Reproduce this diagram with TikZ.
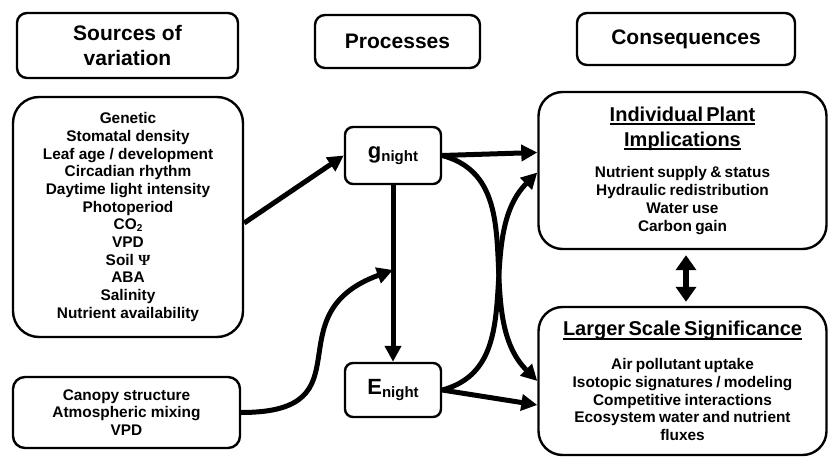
\documentclass[tikz,border=0pt]{standalone}
\usepackage{fontspec}
\setmainfont{Liberation Sans}
\newfontfamily\psifont{Liberation Serif}
\usetikzlibrary{arrows.meta,calc}
\newcommand\hdrfont{\fontsize{21}{25}\selectfont\bfseries}
\newcommand\itemfont{\fontsize{15.4}{17.7}\selectfont\bfseries}
\newcommand\ttlfont{\fontsize{20}{25}\selectfont\bfseries}
\newcommand\undl[1]{\leavevmode\setbox0\hbox{#1}\rlap{\rule[-4pt]{\wd0}{1.8pt}}\box0}
\newcommand\nightof[1]{{\fontsize{22}{22}\selectfont\bfseries #1\raisebox{-3pt}{\fontsize{15}{15}\selectfont night}}}
\tikzset{
  header/.style={draw=black, line width=2.4pt, rounded corners=10pt, font=\hdrfont, align=center, inner sep=0pt},
  srcbox/.style={draw=black, line width=2.4pt, rounded corners=26pt, font=\itemfont, align=center, inner sep=0pt},
  smallsrc/.style={draw=black, line width=2.4pt, rounded corners=12pt, font=\itemfont, align=center, inner sep=0pt},
  procbox/.style={draw=black, line width=2.4pt, rounded corners=8pt, inner sep=0pt, minimum width=96pt},
  conbox/.style={draw=black, line width=2.4pt, rounded corners=24pt, align=center, inner sep=4pt, text width=280pt},
  arrow/.style={-{Triangle[length=16pt,width=16pt]}, line width=5pt},
  dblarrow/.style={{Triangle[length=15pt,width=20pt]}-{Triangle[length=15pt,width=20pt]}, line width=6pt}
}
\begin{document}
\begin{tikzpicture}[x=1pt, y=1pt]
  \useasboundingbox (0,0) rectangle (829,458);
  % column headers
  \node[header, minimum width=221pt, minimum height=65pt] (hsrc) at (127.5,412.5) {Sources of\\variation};
  \node[header, minimum width=165pt, minimum height=53pt] (hproc) at (397.5,416.5) {Processes};
  \node[header, minimum width=218pt, minimum height=52pt] (hcons) at (686,419) {Consequences};
  % sources
  \node[srcbox, minimum width=230pt, minimum height=240pt] (src) at (128,241)
    {Genetic\\Stomatal density\\Leaf age / development\\Circadian rhythm\\Daytime light intensity\\Photoperiod\\
     CO\raisebox{-2pt}{\fontsize{10}{10}\selectfont 2}\\VPD\\Soil {\psifont\bfseries Ψ}\\ABA\\Salinity\\Nutrient availability};
  \node[smallsrc, minimum width=227pt, minimum height=71pt] (canopy) at (126.5,45.5)
    {Canopy structure\\Atmospheric mixing\\VPD};
  % processes
  \node[procbox, minimum height=57pt] (gn) at (393,302.5) {\nightof{g}};
  \node[procbox, minimum height=54pt] (en) at (393,68) {\nightof{E}};
  \coordinate (join) at ($(gn.south)!0.48!(en.north)$);
  % consequences
  \node[conbox, minimum width=288pt, minimum height=157pt] (ind) at (682.5,287.5)
    {{\ttlfont\undl{Individual Plant}\\\undl{Implications}\par}\vspace{14pt}%
     {\itemfont Nutrient supply \& status\\Hydraulic redistribution\\Water use\\Carbon gain\par}};
  \node[conbox, minimum width=288pt, minimum height=148pt] (lss) at (682.5,77)
    {{\ttlfont\undl{Larger Scale Significance}\par}\vspace{16pt}%
     {\itemfont Air pollutant uptake\\Isotopic signatures / modeling\\Competitive interactions\\Ecosystem water and nutrient\\fluxes\par}};
  % connectors
  \draw[arrow] ([yshift=-6pt]src.east) -- (gn.west);
  \draw[arrow] (gn.south) -- (en.north);
  \draw[arrow] (canopy.east) to[out=0, in=200, looseness=1.6] (join);
  \draw[arrow] (gn.east) -- ([yshift=18pt]ind.west);
  \draw[arrow] (gn.east) to[out=-15, in=135] (lss.west);
  \draw[arrow] (en.east) to[out=15, in=-135] ([yshift=-2pt]ind.west);
  \draw[arrow] (en.east) -- ([yshift=-24pt]lss.west);
  \draw[dblarrow, shorten <=5pt, shorten >=4pt] ([xshift=3.5pt]ind.south) -- ([xshift=3.5pt]lss.north);
\end{tikzpicture}
\end{document}
